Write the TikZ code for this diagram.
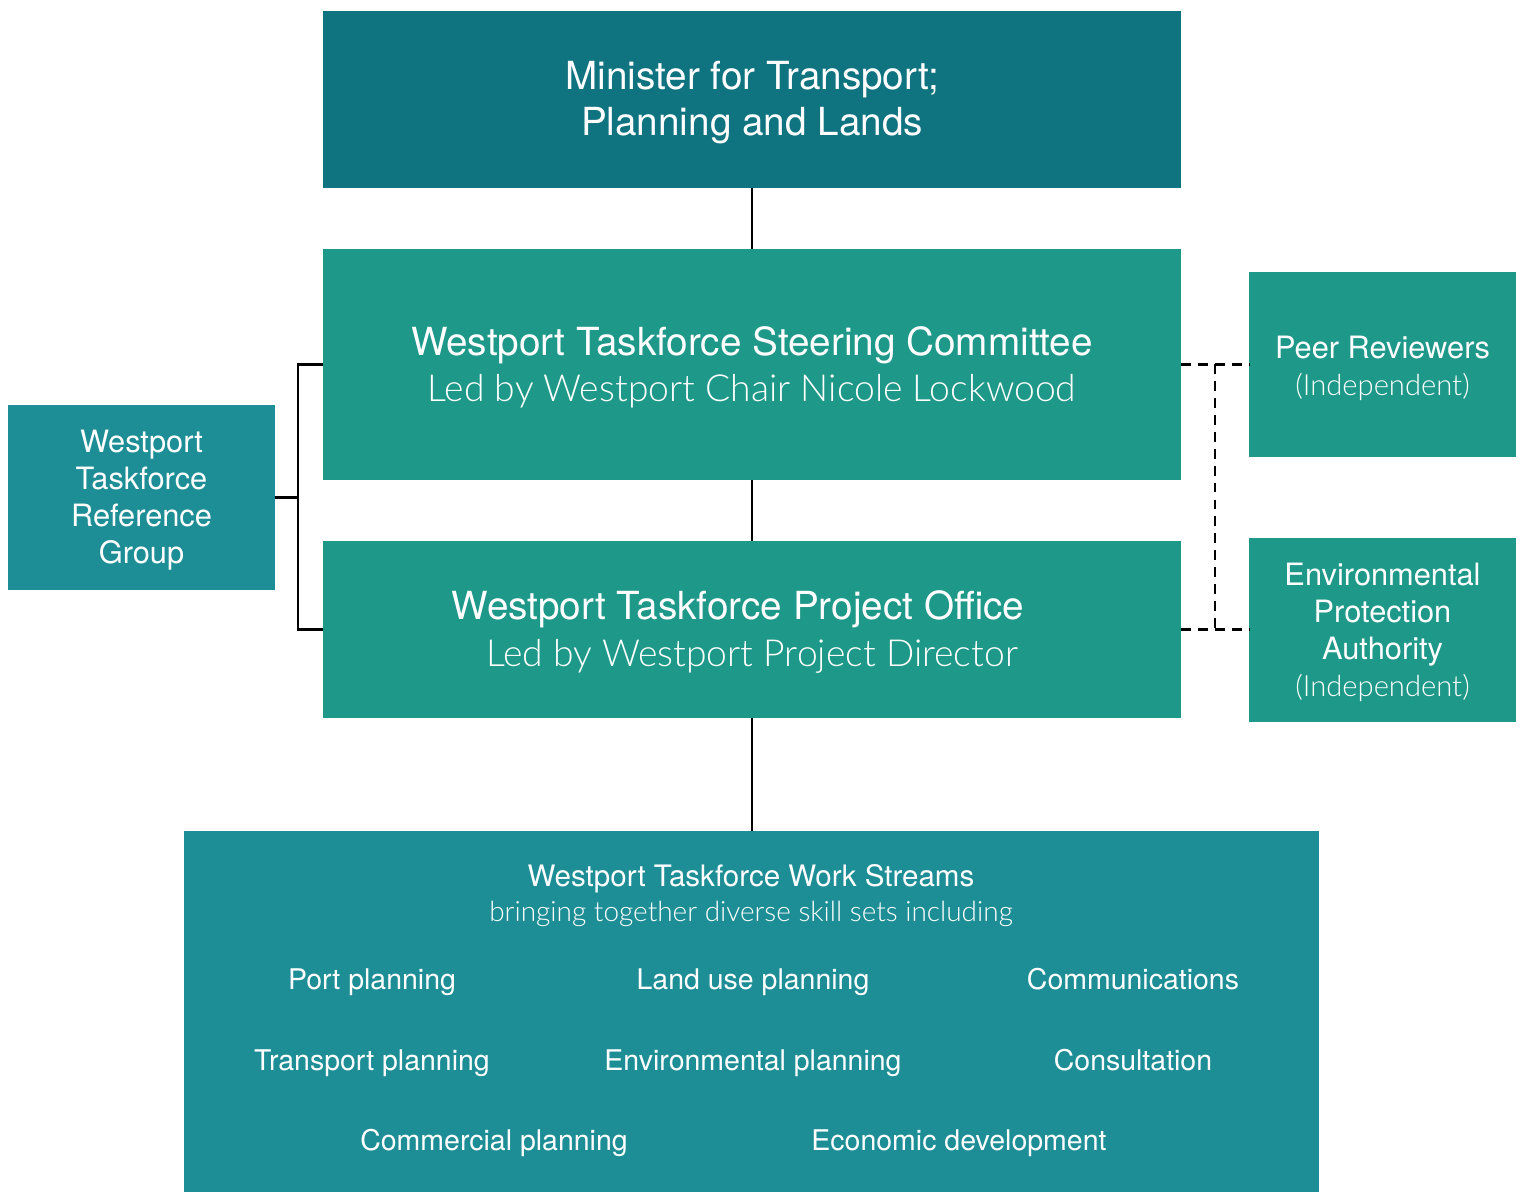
\documentclass[tikz,border=0pt]{standalone}
\usepackage{fontspec}
\setmainfont{TeX Gyre Heros}
\IfFontExistsTF{Lato Light}{\newfontfamily\lightfont{Lato Light}}{\newfontfamily\lightfont{Liberation Sans}}
\definecolor{ministerteal}{RGB}{16,115,128}
\definecolor{greenteal}{RGB}{30,152,136}
\definecolor{blueteal}{RGB}{30,142,150}
\newcommand{\bigfont}{\fontsize{11}{13.1}\selectfont}
\newcommand{\biglight}{\lightfont\fontsize{10.6}{13.1}\selectfont}
\newcommand{\smallfont}{\fontsize{8.75}{10.5}\selectfont}
\newcommand{\smalllight}{\lightfont\fontsize{8.3}{10.5}\selectfont}
\tikzset{
  box/.style={fill=#1, draw=none, inner sep=0pt, outer sep=0pt},
  label/.style={text=white, align=center, inner sep=0pt},
  itemtext/.style={text=white, inner sep=0pt, text height=5.9pt, text depth=0pt, font=\fontsize{8.1}{10}\selectfont},
  link/.style={draw=black, line width=0.65pt},
  dashlink/.style={draw=black, line width=0.65pt, dash pattern=on 2.8pt off 2pt},
}
\begin{document}
\begin{tikzpicture}[x=0.01cm, y=-0.01cm]
\useasboundingbox (0,0) rectangle (1521,1192);

% main hierarchy
\node[box=ministerteal, minimum width=8.58cm, minimum height=1.77cm] (minister) at (752,99.5) {};
\node[label, font=\bigfont] (ministertext) at (752,102.5) {Minister for Transport;\\Planning and Lands};
\node[box=greenteal, minimum width=8.58cm, minimum height=2.31cm] (steering) at (752,364.5) {};
\node[label, font=\bigfont] (steeringtext) at (752,367)
  {Westport Taskforce Steering Committee\\{\biglight Led by Westport Chair Nicole Lockwood}};
\node[box=greenteal, minimum width=8.58cm, minimum height=1.77cm] (office) at (752,629.5) {};
\node[label, font=\bigfont] (officetext) at (752,632)
  {Westport Taskforce Project Office\hspace*{8pt}\\{\biglight Led by Westport Project Director}};

% side groups
\node[box=blueteal, minimum width=2.67cm, minimum height=1.85cm] (refgroup) at (141.5,497.5) {};
\node[label, font=\smallfont] (reftext) at (141.5,500.5) {Westport\\Taskforce\\Reference\\Group};
\node[box=greenteal, minimum width=2.67cm, minimum height=1.85cm] (peer) at (1382.5,364.5) {};
\node[label, font=\smallfont] (peertext) at (1382.5,368) {Peer Reviewers\\{\smalllight (Independent)}};
\node[box=greenteal, minimum width=2.67cm, minimum height=1.84cm] (epa) at (1382.5,630) {};
\node[label, font=\smallfont] (epatext) at (1382.5,632.5)
  {Environmental\\Protection\\Authority\\{\smalllight (Independent)}};

% work streams panel
\node[box=blueteal, minimum width=11.35cm, minimum height=3.61cm] (streams) at (751.5,1011.5) {};
\node[itemtext, font=\fontsize{8.4}{10}\selectfont] (wstitle) at (751,876) {Westport Taskforce Work Streams};
\node[itemtext, font=\fontsize{7.95}{10}\lightfont] (wssub) at (751,911) {bringing together diverse skill sets including};
\node[itemtext] (s1) at (372,979) {Port planning};
\node[itemtext] (s2) at (753,979) {Land use planning};
\node[itemtext] (s3) at (1133,979) {Communications};
\node[itemtext] (s4) at (372,1060) {Transport planning};
\node[itemtext] (s5) at (753,1060) {Environmental planning};
\node[itemtext] (s6) at (1133,1060) {Consultation};
\node[itemtext] (s7) at (494,1140) {Commercial planning};
\node[itemtext] (s8) at (959,1140) {Economic development};

% solid reporting lines
\draw[link] (minister.south) -- (steering.north);
\draw[link] (steering.south) -- (office.north);
\draw[link] (office.south) -- (office.south |- streams.north);

% reference group bracket
\coordinate (bracketmid) at (298,497.5);
\draw[link] (refgroup.east) -- (bracketmid);
\draw[link] (steering.west) -| (bracketmid) |- (office.west);

% independent advisers (dashed)
\coordinate (dashtop) at (1215,364.5);
\coordinate (dashbot) at (1215,629.5);
\draw[dashlink] (steering.east) -- (peer.west);
\draw[dashlink] (office.east) -- (office.east -| epa.west);
\draw[dashlink] (dashtop) -- (dashbot);
\end{tikzpicture}
\end{document}
